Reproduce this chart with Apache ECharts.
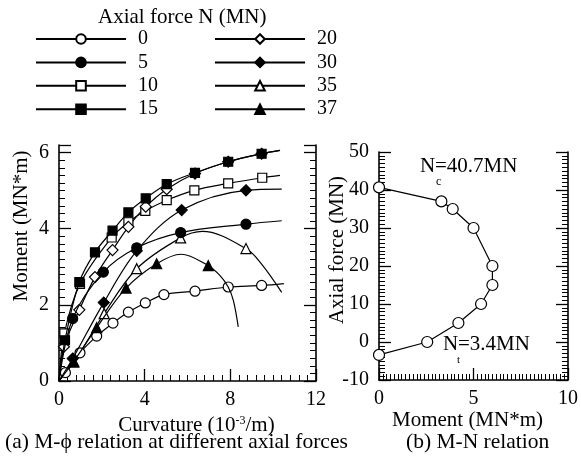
<!DOCTYPE html>
<html>
<head>
<meta charset="utf-8">
<script src="https://cdn.jsdelivr.net/npm/echarts@6/dist/echarts.min.js"></script>
<style>
html, body { margin: 0; padding: 0; background: #fff; }
#chart { width: 581px; height: 463px; }
</style>
</head>
<body>
<div id="chart"></div>
<script>
// axial force levels (MN), one curve each in (a)
const forces = ['0', '5', '10', '15', '20', '30', '35', '37'];

// (a) M-phi, points with a marker: [curvature 10^-3/m, moment MN*m]
const marks0 = [[0.3, 0.22], [0.98, 0.74], [1.76, 1.18], [2.52, 1.52], [3.24, 1.81], [4.03, 2.05], [4.9, 2.27], [6.35, 2.36], [7.9, 2.47], [9.46, 2.51]];
const marks5 = [[0.64, 1.64], [2.07, 2.86], [3.63, 3.5], [5.68, 3.9], [8.73, 4.12]];
const marks10 = [[0.25, 1.25], [0.98, 2.55], [2.46, 3.77], [3.24, 4.17], [4.03, 4.47], [5.03, 4.75], [6.32, 5.01], [7.9, 5.19], [9.49, 5.34]];
const marks15 = [[0.28, 1.07], [0.95, 2.6], [1.68, 3.38], [2.5, 3.95], [3.24, 4.43], [4.05, 4.8], [5.03, 5.17], [6.35, 5.47], [7.9, 5.76], [9.46, 5.97]];
const marks20 = [[0.23, 0.9], [0.95, 1.87], [1.68, 2.73], [2.5, 3.44], [3.24, 4.05], [4.05, 4.58], [5.03, 5.04], [6.35, 5.45], [7.9, 5.76], [9.46, 5.97]];
const marks30 = [[0.64, 0.59], [2.09, 2.06], [3.63, 3.42], [5.73, 4.49], [8.73, 5.01]];
const marks35 = [[0.7, 0.5], [2.11, 1.77], [3.63, 2.95], [5.68, 3.76], [8.73, 3.48]];
const marks37 = [[0.67, 0.5], [1.76, 1.4], [3.13, 2.44], [4.56, 3.08], [6.97, 3.03]];

// curve-only points (origin, peaks, tails past the last marker)
const line0 = [[0, 0], [10.5, 2.56]];
const line5 = [[0, 0], [10.4, 4.21]];
const line10 = [[0, 0], [10.32, 5.4]];
const line15 = [[0, 0], [10.32, 6.06]];
const line20 = [[0, 0], [10.32, 6.06]];
const line30 = [[0, 0], [10.4, 5.04]];
const line35 = [[0, 0], [6.7, 3.93], [9.45, 3.08], [10.4, 2.33]];
const line37 = [[0, 0], [5.7, 3.33], [7.52, 2.77], [7.9, 2.47], [8.14, 2.12], [8.37, 1.42]];

// (b) M-N interaction points
const mnMoment = [0, 3.3, 3.9, 5.0, 6.0, 6.0, 5.4, 4.2, 2.55, 0];
const mnForce = [40.7, 37, 35, 30, 20, 15, 10, 5, 0, -3.4];

// axis ranges and tick steps
const curvRange = [0, 12, 4];
const momentRange = [0, 6.2, 2];
const mnMomentRange = [0, 10, 5];
const mnForceRange = [-10, 50, 10];

const marks = [marks0, marks5, marks10, marks15, marks20, marks30, marks35, marks37];
const lines = [line0, line5, line10, line15, line20, line30, line35, line37];
const symbols = ['circle', 'circle', 'rect', 'rect', 'diamond', 'diamond', 'triangle', 'triangle'];
const sizes = [10, 10, 9, 9, 11, 11, 10, 10];
const filled = [false, true, false, true, false, true, false, true];

const serif = '"Liberation Serif", "DejaVu Serif", serif';
const txt = { color: '#000', fontFamily: serif, fontSize: 20 };

function buildData(m, l) {
  const pts = m.map(p => ({ value: p }))
    .concat(l.map(p => ({ value: p, symbol: 'none' })));
  pts.sort((a, b) => a.value[0] - b.value[0]);
  return pts;
}

function valueAxis(range, split, o) {
  return Object.assign({
    type: 'value',
    min: range[0], max: range[1], interval: range[2],
    axisLine: { show: true, onZero: false, lineStyle: { color: '#000', width: 1.6 } },
    axisTick: { show: true, inside: true, length: 12, lineStyle: { color: '#000', width: 1.3 } },
    minorTick: { show: true, splitNumber: split, length: 6, lineStyle: { color: '#000', width: 1 } },
    splitLine: { show: false },
    axisLabel: Object.assign({ margin: 9 }, txt),
  }, o);
}

// right side of each frame: a thin extra grid whose left y axis sits on the
// frame edge, ticks pointing outwards (= into the plot on its left)
function frameAxis(range, split, grid) {
  return valueAxis(range, split, {
    gridIndex: grid,
    axisTick: { show: true, inside: false, length: 12, lineStyle: { color: '#000', width: 1.3 } },
    axisLabel: { show: true, color: 'rgba(0,0,0,0)', formatter: () => '' },
  });
}

function hiddenX(grid) {
  return { type: 'value', gridIndex: grid, min: 0, max: 1, show: false };
}

const chart = echarts.init(document.getElementById('chart'));

const seriesA = forces.map((f, i) => ({
  name: f,
  type: 'line',
  xAxisIndex: 0,
  yAxisIndex: 0,
  smooth: 0.35,
  symbol: symbols[i],
  symbolSize: sizes[i],
  showAllSymbol: true,
  lineStyle: { color: '#000', width: 1.2 },
  itemStyle: { color: filled[i] ? '#000' : '#fff', borderColor: '#000', borderWidth: 1.2 },
  emphasis: { disabled: true },
  z: filled[i] ? 3 : 2,
  data: buildData(marks[i], lines[i]),
}));

const seriesB = {
  name: 'M-N',
  type: 'line',
  xAxisIndex: 1,
  yAxisIndex: 1,
  symbol: 'circle',
  symbolSize: 11,
  lineStyle: { color: '#000', width: 1.2 },
  itemStyle: { color: '#fff', borderColor: '#000', borderWidth: 1.2 },
  emphasis: { disabled: true },
  data: mnMoment.map((m, i) => [m, mnForce[i]]),
};

const legendBase = {
  orient: 'vertical', top: 29, padding: 0,
  itemWidth: 90, itemHeight: 12, itemGap: 3.4,
  textStyle: Object.assign({}, txt, { padding: [0, 0, 0, 7] }),
  selectedMode: false,
};

const capStyle = Object.assign({}, txt, { fontSize: 21.5, fontWeight: 'normal' });

chart.setOption({
  animation: false,
  backgroundColor: '#fff',
  title: [
    { text: 'Axial force N (MN)', left: 98, top: 7, padding: 0, textStyle: Object.assign({}, txt, { fontSize: 21, fontWeight: 'normal' }) },
    { text: '(a) M-\u03d5 relation at different axial forces', left: 5, top: 431, padding: 0, textStyle: capStyle },
    { text: '(b) M-N relation', left: 406, top: 431, padding: 0, textStyle: capStyle },
  ],
  legend: [
    Object.assign({ data: forces.slice(0, 4), left: 35 }, legendBase),
    Object.assign({ data: forces.slice(4), left: 214 }, legendBase),
  ],
  grid: [
    { left: 59, top: 145, width: 257, height: 236 },
    { left: 379, top: 152, width: 189, height: 228 },
    { left: 316, top: 145, width: 8, height: 236 },
    { left: 568, top: 152, width: 8, height: 228 },
  ],
  xAxis: [
    valueAxis(curvRange, 10, {
      gridIndex: 0,
      name: '{a|Curvature (10}{s|-3}{a|/m)}', nameLocation: 'middle', nameGap: 30,
      nameTextStyle: Object.assign({}, txt, {
        padding: [0, 0, 0, 18],
        rich: { a: Object.assign({}, txt, { fontSize: 21 }), s: Object.assign({}, txt, { fontSize: 12, verticalAlign: 'top' }) },
      }),
    }),
    valueAxis(mnMomentRange, 25, {
      gridIndex: 1,
      name: 'Moment (MN*m)', nameLocation: 'middle', nameGap: 30,
      nameTextStyle: Object.assign({}, txt, { fontSize: 21, padding: [0, 12, 0, 0] }),
    }),
    hiddenX(2),
    hiddenX(3),
  ],
  yAxis: [
    valueAxis(momentRange, 10, {
      gridIndex: 0,
      axisLabel: Object.assign({ margin: 10, showMaxLabel: false }, txt),
    }),
    valueAxis(mnForceRange, 10, { gridIndex: 1, axisLabel: Object.assign({ margin: 10 }, txt) }),
    frameAxis(momentRange, 10, 2),
    frameAxis(mnForceRange, 10, 3),
  ],
  graphic: [
    { type: 'text', x: 21, y: 226, rotation: Math.PI / 2, style: { text: 'Moment (MN*m)', fill: '#000', font: '21px ' + serif, align: 'center', verticalAlign: 'middle' } },
    { type: 'text', x: 337, y: 250, rotation: Math.PI / 2, style: { text: 'Axial force (MN)', fill: '#000', font: '21px ' + serif, align: 'center', verticalAlign: 'middle' } },
    { type: 'text', left: 420, top: 156, style: { text: 'N', fill: '#000', font: '21px ' + serif } },
    { type: 'text', left: 436, top: 176, style: { text: 'c', fill: '#000', font: '12px ' + serif } },
    { type: 'text', left: 435, top: 156, style: { text: '=40.7MN', fill: '#000', font: '21px ' + serif } },
    { type: 'text', left: 443, top: 334, style: { text: 'N', fill: '#000', font: '21px ' + serif } },
    { type: 'text', left: 457, top: 355, style: { text: 't', fill: '#000', font: '11px ' + serif } },
    { type: 'text', left: 458, top: 334, style: { text: '=3.4MN', fill: '#000', font: '21px ' + serif } },
  ],
  series: seriesA.concat([seriesB]),
});
</script>
</body>
</html>
